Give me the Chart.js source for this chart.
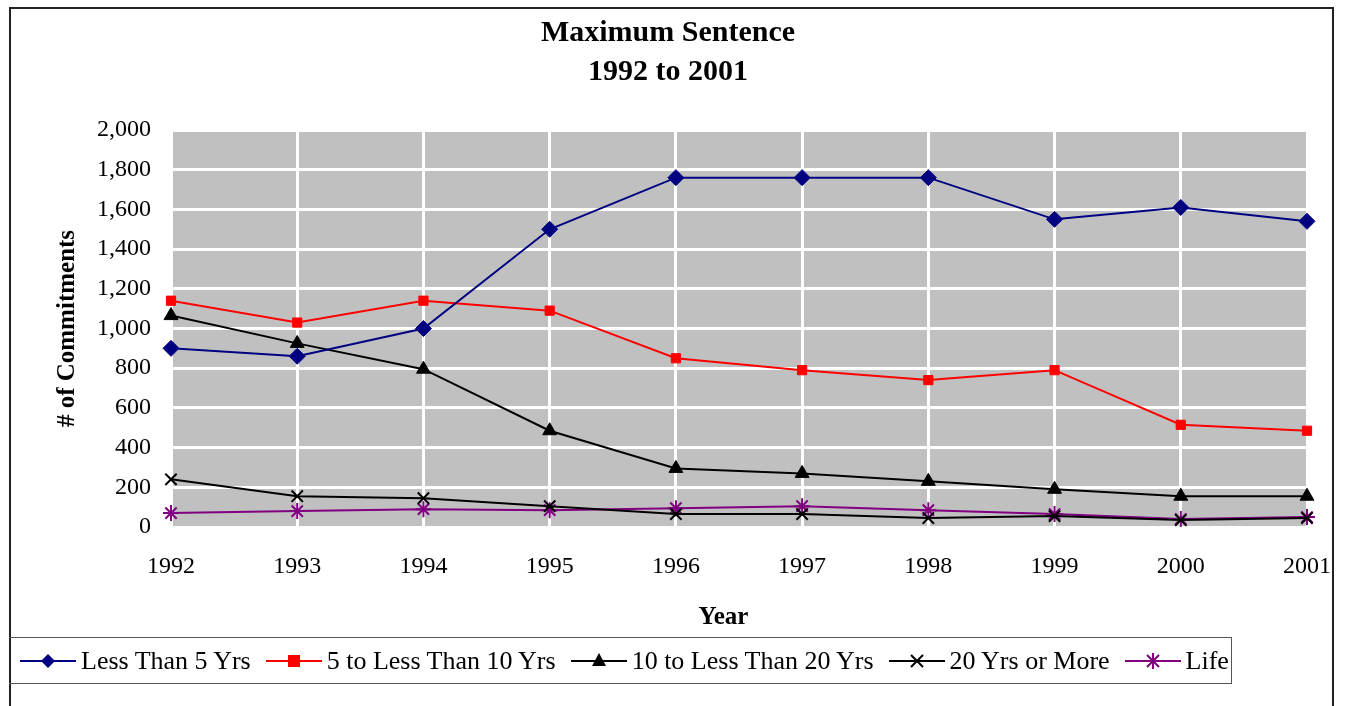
<!DOCTYPE html>
<html>
<head>
<meta charset="utf-8">
<script src="https://cdn.jsdelivr.net/npm/chart.js@4/dist/chart.umd.min.js"></script>
<style>
  html, body { margin: 0; padding: 0; background: #fff; overflow: hidden; }
  #wrap { position: relative; width: 1345px; height: 706px; }
  #frame { position: absolute; left: 9px; top: 7px; width: 1325px; height: 720px; border: 2px solid #222; box-sizing: border-box; pointer-events: none; }
  #legend { position: absolute; left: 9px; top: 637px; width: 1223px; height: 47px; border: 1px solid #555; border-left: none; box-sizing: border-box;
    display: flex; align-items: center; font-family: "Liberation Serif", "Times New Roman", serif; font-size: 26px; color: #000; white-space: nowrap; }
  #legend .item { display: flex; align-items: center; margin-left: 15px; }
  #legend .item:first-child { margin-left: 11px; }
  #legend svg { margin-right: 5px; }
</style>
</head>
<body>
<div id="wrap">
  <canvas id="chart" width="1345" height="706"></canvas>
  <div id="frame"></div>
  <div id="legend"></div>
</div>
<script>
(() => {
  'use strict'

  const years = ['1992', '1993', '1994', '1995', '1996', '1997', '1998', '1999', '2000', '2001']

  const lessThan5 = [900, 860, 1000, 1500, 1760, 1760, 1760, 1550, 1610, 1540]
  const from5To10 = [1140, 1030, 1140, 1090, 850, 790, 740, 790, 515, 485]
  const from10To20 = [1065, 925, 795, 485, 295, 270, 230, 190, 155, 155]
  const over20 = [240, 155, 145, 105, 65, 65, 45, 55, 35, 45]
  const life = [70, 80, 90, 85, 95, 105, 85, 65, 40, 50]

  const seriesLabels = ['Less Than 5 Yrs', '5 to Less Than 10 Yrs', '10 to Less Than 20 Yrs', '20 Yrs or More', 'Life']
  const yTicks = [0, 200, 400, 600, 800, 1000, 1200, 1400, 1600, 1800, 2000]

  const serif = '"Liberation Serif", "Times New Roman", serif'

  const plotBackground = {
    id: 'plotBackground',
    beforeDraw (chart) {
      const { ctx, chartArea: a } = chart
      ctx.save()
      ctx.fillStyle = '#c0c0c0'
      ctx.fillRect(a.left, a.top, a.right - a.left, a.bottom - a.top)
      ctx.restore()
    }
  }

  const styles = [
    { color: '#000080', point: 'rectRot', radius: 8 },
    { color: '#ff0000', point: 'rect', radius: 6.5 },
    { color: '#000000', point: 'triangle', radius: 8 },
    { color: '#000000', point: 'crossRot', radius: 8 },
    { color: '#800080', point: 'star', radius: 8 }
  ]
  const values = [lessThan5, from5To10, from10To20, over20, life]

  const datasets = values.map((data, i) => ({
    label: seriesLabels[i],
    data,
    borderColor: styles[i].color,
    backgroundColor: styles[i].color,
    borderWidth: 2,
    pointStyle: styles[i].point,
    pointRadius: styles[i].radius,
    pointBorderWidth: i >= 3 ? 2 : 1,
    pointBorderColor: styles[i].color,
    pointBackgroundColor: styles[i].color,
    tension: 0,
    fill: false
  }))

  // eslint-disable-next-line no-unused-vars
  const chart = new Chart(document.getElementById('chart'), {
    type: 'line',
    data: { labels: years, datasets },
    plugins: [plotBackground],
    options: {
      responsive: false,
      animation: false,
      layout: { padding: { left: 29, right: 38, top: 14, bottom: 69 } },
      plugins: {
        legend: { display: false },
        tooltip: { enabled: false },
        title: {
          display: true,
          text: ['Maximum Sentence', '1992 to 2001'],
          color: '#000',
          font: { family: serif, size: 30, weight: 'bold', lineHeight: 1.3 },
          padding: { top: 0, bottom: 38 }
        }
      },
      scales: {
        x: {
          offset: false,
          afterFit: s => {
            s.height = 110
            s.paddingLeft = 0
            s.paddingRight = 0
          },
          grid: { color: '#ffffff', lineWidth: 3, drawTicks: false },
          border: { display: false },
          ticks: { color: '#000', font: { family: serif, size: 24 }, padding: 25, maxRotation: 0, autoSkip: false },
          // trailing spaces nudge the title left, as in the original
          title: { display: true, text: 'Year     ', color: '#000', font: { family: serif, size: 25, weight: 'bold' }, padding: { top: 6 } }
        },
        y: {
          min: 0,
          max: 2000,
          afterFit: s => { s.width = 142 },
          afterBuildTicks: s => { s.ticks = yTicks.map(v => ({ value: v })) },
          grid: { color: '#ffffff', lineWidth: 3, drawTicks: false },
          border: { display: false },
          ticks: {
            color: '#000',
            font: { family: serif, size: 24 },
            padding: 20,
            callback: v => v.toLocaleString('en-US')
          },
          title: { display: true, text: '# of Commitments', color: '#000', font: { family: serif, size: 25, weight: 'bold' }, padding: { top: 24 } }
        }
      }
    }
  })

  // legend built from the dataset styles
  const legend = document.getElementById('legend')
  const icon = (st) => {
    const c = st.color
    const cx = 28, cy = 12
    let m = ''
    if (st.point === 'rectRot') m = `<polygon points="${cx},${cy - 7} ${cx + 7},${cy} ${cx},${cy + 7} ${cx - 7},${cy}" fill="${c}"/>`
    if (st.point === 'rect') m = `<rect x="${cx - 6}" y="${cy - 6}" width="12" height="12" fill="${c}"/>`
    if (st.point === 'triangle') m = `<polygon points="${cx},${cy - 8} ${cx + 7},${cy + 5} ${cx - 7},${cy + 5}" fill="${c}"/>`
    if (st.point === 'crossRot') m = `<path d="M${cx - 6} ${cy - 6}L${cx + 6} ${cy + 6}M${cx + 6} ${cy - 6}L${cx - 6} ${cy + 6}" stroke="${c}" stroke-width="2"/>`
    if (st.point === 'star') m = `<path d="M${cx - 6} ${cy - 6}L${cx + 6} ${cy + 6}M${cx + 6} ${cy - 6}L${cx - 6} ${cy + 6}M${cx} ${cy - 8}L${cx} ${cy + 8}" stroke="${c}" stroke-width="2"/>`
    return `<svg width="56" height="24"><line x1="0" y1="${cy}" x2="56" y2="${cy}" stroke="${c}" stroke-width="2"/>${m}</svg>`
  }
  seriesLabels.forEach((label, i) => {
    const el = document.createElement('span')
    el.className = 'item'
    el.innerHTML = icon(styles[i]) + '<span>' + label + '</span>'
    legend.appendChild(el)
  })
})()
</script>
</body>
</html>
